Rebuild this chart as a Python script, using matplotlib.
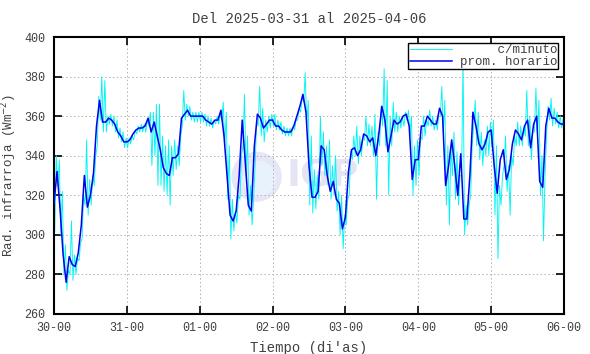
import numpy as np
import matplotlib
matplotlib.use("Agg")
import matplotlib.pyplot as plt
from matplotlib.patches import Ellipse

# ---- data (hourly means, W m^-2) ----
day30 = [316,332,313,290,276,289,285,284,291,305,330,314,320,331,355,368,357,357,359,358,356,352,350,347]
day31 = [347,348,351,353,354,354,355,359,352,357,350,343,334,331,330,339,339,341,359,361,363,360,360,360]
day01 = [360,360,358,357,356,358,358,363,350,330,310,307,312,330,358,337,315,312,345,361,359,354,356,358]
day02 = [358,355,355,353,352,352,352,355,360,365,371,362,335,319,319,322,345,343,330,322,327,318,316,303]
day03 = [309,332,343,344,340,343,351,350,347,349,340,351,365,358,342,350,358,356,357,360,361,355,328,338]
day04 = [338,355,355,360,358,356,356,364,360,325,335,348,335,320,341,308,308,330,362,355,346,343,346,352]
day05 = [353,335,321,338,343,328,333,346,353,351,348,355,358,344,356,360,327,324,355,364,359,359,357,356]
last_value = [356]

# ---- per-minute data envelope per hour (low / high) ----
lo30 = [302,325,300,280,272,280,277,280,287,298,315,310,315,325,345,358,352,352,356,355,352,349,347,344]
hi30 = [340,338,322,295,282,307,290,288,296,320,348,328,330,340,370,380,378,360,361,360,358,354,352,349]
lo31 = [344,346,348,351,352,352,352,355,335,340,325,325,322,320,315,330,333,335,355,358,360,358,357,357]
hi31 = [349,350,353,355,356,356,358,362,362,366,366,350,345,348,345,348,345,350,373,366,365,362,362,362]
lo01 = [357,357,355,355,354,356,356,358,345,318,298,302,306,318,345,330,310,305,335,355,350,347,352,354]
hi01 = [362,361,360,359,358,360,361,367,362,345,318,312,320,340,371,350,325,318,358,375,364,358,360,361]
lo02 = [355,353,353,351,350,350,350,353,358,362,367,355,315,311,313,318,335,330,325,318,320,312,300,293]
hi02 = [361,358,357,355,354,354,355,358,364,370,382,368,350,333,330,360,352,345,348,335,340,322,320,310]
lo03 = [305,320,338,340,336,340,348,345,345,340,318,345,355,345,320,345,352,352,354,355,358,350,320,325]
hi03 = [318,342,350,355,350,348,360,356,355,361,352,365,384,378,360,367,362,360,360,362,363,360,345,348]
lo04 = [330,348,350,355,355,353,353,360,352,315,305,330,318,315,330,300,305,320,355,345,338,335,340,340]
hi04 = [350,360,358,363,360,358,360,375,368,345,345,352,342,330,388,315,315,345,368,362,352,348,355,357]
lo05 = [345,310,288,315,335,322,310,335,345,345,345,350,345,338,352,350,320,297,350,358,355,356,354,354]
hi05 = [358,345,325,330,350,335,340,350,357,355,354,373,360,352,374,368,340,330,365,369,364,362,360,359]

xtick_labels = ["30-00", "31-00", "01-00", "02-00", "03-00", "04-00", "05-00", "06-00"]
title = "Del 2025-03-31 al 2025-04-06"

# ---- assemble ----
hourly = np.array(day30 + day31 + day01 + day02 + day03 + day04 + day05 + last_value, float)
t_hour = np.arange(len(hourly)) / 24.0

lo = np.array(lo30 + lo31 + lo01 + lo02 + lo03 + lo04 + lo05, float)
hi = np.array(hi30 + hi31 + hi01 + hi02 + hi03 + hi04 + hi05, float)
h = np.arange(len(lo))
t_min = np.empty(2 * len(lo))
v_min = np.empty(2 * len(lo))
t_min[0::2] = (h + 0.25) / 24.0
t_min[1::2] = (h + 0.75) / 24.0
v_min[0::2] = lo
v_min[1::2] = hi

mono = "Liberation Mono"
txtc = "#404040"

fig = plt.figure(figsize=(5.9, 3.54), dpi=100)
ax = fig.add_axes([54/590, 40/354, 510/590, 277/354])

# watermark logo
ax.add_patch(Ellipse((2.78, 329.4), 0.69, 25.3, facecolor="#e6e6f6", edgecolor="none", zorder=0.2))
ax.add_patch(Ellipse((2.82, 328.5), 0.45, 18, facecolor="#e8f2fc", edgecolor="none", zorder=0.25))
ax.text(3.19, 329.5, "IGP", fontsize=27, fontweight="bold", family="DejaVu Sans",
        color="#e4e4f4", ha="left", va="center", zorder=0.3)

ax.plot(t_min, v_min, color="#00f4f4", lw=0.65, label="     c/minuto", zorder=2)
ax.plot(t_hour, hourly, color="#0000ee", lw=1.1, label="prom. horario", zorder=3)

ax.set_xlim(0, 7)
ax.set_ylim(260, 400)
ax.set_xticks(np.arange(8))
ax.set_xticklabels(xtick_labels)
ax.set_yticks(np.arange(260, 401, 20))
ax.grid(True, color="#b0b0b0", linestyle=(0, (1.5, 2.5)), lw=0.7, zorder=1)
ax.tick_params(direction="in", length=6, width=1.2, top=True, right=True,
               labelsize=8.5, labelcolor=txtc, pad=6)
for lab in ax.get_xticklabels() + ax.get_yticklabels():
    lab.set_family(mono)
for s in ax.spines.values():
    s.set_linewidth(1.5)
    s.set_color("black")

ax.set_title(title, family=mono, fontsize=10, color=txtc, pad=10)
ax.set_xlabel("Tiempo (di'as)", family=mono, fontsize=10, color=txtc, labelpad=5)
ax.set_ylabel("Rad. infrarroja (Wm$^{-2}$)", family=mono, fontsize=9, color=txtc)
ax.yaxis.set_label_coords(-0.068, 0.5)

leg = ax.legend(loc="upper right", prop={"family": mono, "size": 9}, frameon=True,
                fancybox=False, edgecolor="black", framealpha=1, handlelength=3.4,
                handletextpad=0.6, labelspacing=0.0, borderpad=0.1, borderaxespad=0.45)
leg.get_frame().set_linewidth(1.0)
for t in leg.get_texts():
    t.set_color(txtc)

fig.savefig("out.png", dpi=100)
